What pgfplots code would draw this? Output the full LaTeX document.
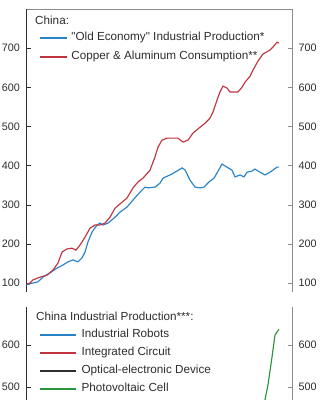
\documentclass[border=0pt]{standalone}
\usepackage{pgfplots}
\pgfplotsset{compat=1.18}
\usepackage{fontspec}
\setmainfont{Liberation Sans}[Ligatures=TeXOff]
\definecolor{cblue}{RGB}{40,130,200}
\definecolor{cred}{RGB}{192,52,64}
\definecolor{cgreen}{RGB}{40,150,60}
\definecolor{cdark}{RGB}{45,45,45}
\definecolor{cgray}{RGB}{140,140,140}
\pgfplotstableread{
x v
26 97
30 100
33 108
40 115
47 120
53 133
58 151
62 179
67 187
72 189
76 184
80 197
85 217
90 240
95 248
100 248
105 253
110 268
115 291
120 302
127 317
133 343
138 358
143 368
150 388
155 422
158 447
162 465
167 470
173 470
178 470
183 460
188 465
193 483
200 498
205 508
210 521
213 537
217 567
220 588
223 603
227 598
230 588
235 588
238 588
242 600
245 613
250 628
253 644
258 667
263 685
270 695
273 703
277 715
279 713
}\redtab
\pgfplotstableread{
x v
26 95
33 100
38 103
43 115
50 126
57 138
63 146
68 154
73 159
78 154
82 164
85 179
88 205
92 230
97 248
100 253
103 248
108 253
115 268
120 281
127 294
133 312
140 332
145 345
148 343
155 345
160 355
163 368
170 376
175 383
182 394
185 389
190 363
195 345
200 343
204 345
209 358
214 368
217 381
222 404
227 396
232 388
235 371
240 376
244 371
247 383
252 386
255 391
260 383
265 376
270 383
277 396
279 396
}\bluetab
\pgfplotstableread{
x v
264 450
265 469
268 505
272 571
275 624
279 638
}\greentab
\pgfplotsset{
  base/.style={
    scale only axis, anchor=south west, width=265.5pt,
    xmin=26.5, xmax=292, xtick=\empty,
    tick align=inside, major tick length=4.5pt,
    /pgf/number format/assume math mode=true,
    tick label style={font=\fontsize{10.8}{12}\selectfont, text=cdark},
    yticklabel style={inner xsep=6.5pt},
  },
  leg/.style={
    legend cell align=left,
    legend style={draw=none, fill=none, anchor=north west, inner sep=0pt,
      font=\fontsize{11.7}{13}\selectfont, text=cdark,
      nodes={inner sep=0pt, text height=8pt, text depth=2.5pt},
      column sep=#1},
  },
}
\begin{document}
\begin{tikzpicture}
% ---------- top panel ----------
\begin{axis}[base, at={(26.5pt,108pt)}, height=283pt, ymin=77, ymax=800,
  axis x line=none, axis y line*=right,
  y axis line style={-, draw=cgray}, ytick style={draw=cgray},
  ytick={100,200,...,700}]
\end{axis}
\begin{axis}[base, leg=4pt, at={(26.5pt,108pt)}, height=283pt, ymin=77, ymax=800,
  axis x line*=top, axis y line*=left,
  x axis line style={-, draw=cgray}, y axis line style={-, draw=cdark},
  ytick style={draw=cdark},
  ytick={100,200,...,700},
  legend image code/.code={\draw[#1, line width=1.3pt] (0pt,0pt) -- (27pt,0pt);},
  legend style={at={(axis description cs:0.047,0.917)}, row sep=8.5pt}]
\addplot[cblue, line width=1.15pt] table[x=x,y=v] {\bluetab};
\addlegendentry{"Old Economy" Industrial Production*}
\addplot[cred, line width=1.15pt] table[x=x,y=v] {\redtab};
\addlegendentry{Copper \& Aluminum Consumption**}
\end{axis}
\node[anchor=base west, font=\fontsize{11.7}{13}\selectfont, text=cdark, inner sep=0pt] at (35pt,375pt) {China:};
% ---------- bottom panel ----------
\begin{axis}[base, at={(26.5pt,-28.5pt)}, height=121.8pt, ymin=400, ymax=692,
  axis x line=none, axis y line*=right,
  y axis line style={-, draw=cgray}, ytick style={draw=cgray},
  ytick={400,500,600}]
\end{axis}
\begin{axis}[base, leg=5pt, at={(26.5pt,-28.5pt)}, height=121.8pt, ymin=400, ymax=692,
  axis x line=none, axis y line*=left,
  y axis line style={-, draw=cdark}, ytick style={draw=cdark},
  ytick={400,500,600},
  legend image code/.code={\draw[#1] (0pt,0pt) -- (36pt,0pt);},
  legend style={at={(axis description cs:0.047,0.8125)}, row sep=7.5pt}]
\addlegendimage{draw=cblue, line width=1.4pt}
\addlegendimage{draw=cred, line width=1.4pt}
\addlegendimage{draw=cdark, line width=1.4pt}
\addlegendimage{draw=cgreen, line width=1.4pt}
\addplot[cgreen, line width=1.15pt, forget plot] table[x=x,y=v] {\greentab};
\legend{Industrial Robots, Integrated Circuit, Optical-electronic Device, Photovoltaic Cell}
\end{axis}
\node[anchor=base west, font=\fontsize{11.7}{13}\selectfont, text=cdark, inner sep=0pt] at (36pt,80pt) {China Industrial Production***:};
\pgfresetboundingbox
\useasboundingbox (0pt,0pt) rectangle (324pt,400pt);
\end{tikzpicture}
\end{document}
